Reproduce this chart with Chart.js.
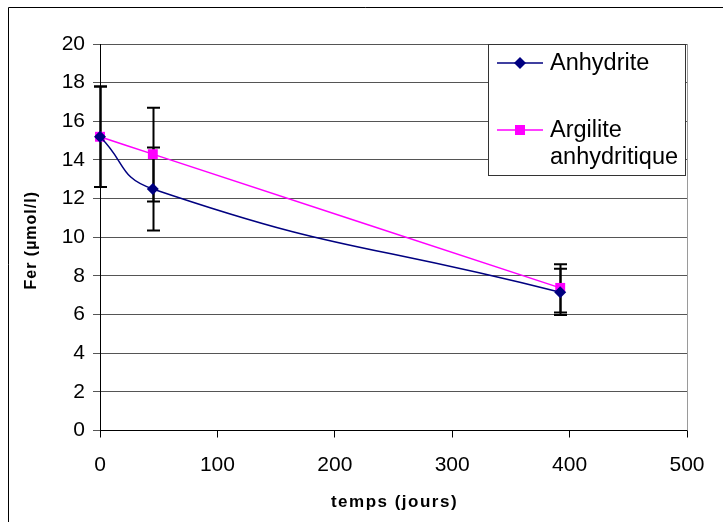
<!DOCTYPE html>
<html>
<head>
<meta charset="utf-8">
<script src="https://cdn.jsdelivr.net/npm/chart.js@4/dist/chart.umd.min.js"></script>
<style>
  html, body { margin: 0; padding: 0; background: #fff; }
  #wrap { width: 723px; height: 522px; }
</style>
</head>
<body>
<div id="wrap"><canvas id="chart" width="723" height="522"></canvas></div>
<script>
// temps (jours)
const days = [0, 45, 392];

const anhydrite = [15.2, 12.5, 7.15];
const anhydriteLow = [12.6, 10.35, 5.98];
const anhydriteHigh = [17.8, 14.65, 8.37];

const argilite = [15.2, 14.3, 7.38];
const argiliteLow = [12.6, 11.85, 6.1];
const argiliteHigh = [17.8, 16.7, 8.6];

const xTicks = [0, 100, 200, 300, 400, 500];
const yTicks = [0, 2, 4, 6, 8, 10, 12, 14, 16, 18, 20];

const xTitle = 'temps (jours)';
const yTitle = 'Fer (µmol/l)';
const legendLabels = [['Anhydrite'], ['Argilite', 'anhydritique']];

const NAVY = '#000080';
const PINK = '#FF00FF';
const FONT = '"Liberation Sans", Arial, sans-serif';

function toPoints(xs, ys) {
    return xs.map((x, i) => ({x: x, y: ys[i]}));
}

// error bars, drawn before the lines so markers sit on top
const errorBars = {
    id: 'errorBars',
    beforeDatasetsDraw(chart) {
        const ctx = chart.ctx;
        const xs = chart.scales.x, ys = chart.scales.y;
        const sets = [[anhydriteLow, anhydriteHigh], [argiliteLow, argiliteHigh]];
        ctx.save();
        ctx.strokeStyle = '#000';
        ctx.lineWidth = 2;
        sets.forEach(([lo, hi]) => {
            days.forEach((d, i) => {
                const px = Math.round(xs.getPixelForValue(d)) + 0.5;
                const top = ys.getPixelForValue(hi[i]);
                const bot = ys.getPixelForValue(lo[i]);
                ctx.beginPath();
                ctx.moveTo(px, top); ctx.lineTo(px, bot);
                ctx.moveTo(px - 6.5, top); ctx.lineTo(px + 6.5, top);
                ctx.moveTo(px - 6.5, bot); ctx.lineTo(px + 6.5, bot);
                ctx.stroke();
            });
        });
        ctx.restore();
    }
};

// frame, axis titles, right border of the plot and legend box
const decorations = {
    id: 'decorations',
    beforeDraw(chart) {
        const ctx = chart.ctx;
        ctx.save();
        ctx.strokeStyle = '#000';
        ctx.lineWidth = 1;
        ctx.beginPath();
        ctx.moveTo(8.5, 522); ctx.lineTo(8.5, 7.5); ctx.lineTo(723, 7.5);
        ctx.stroke();
        ctx.restore();
    },
    afterDraw(chart) {
        const ctx = chart.ctx;
        const area = chart.chartArea;
        ctx.save();
        ctx.strokeStyle = '#9a9a9a';
        ctx.lineWidth = 1;
        ctx.beginPath();
        ctx.moveTo(Math.round(area.right) + 0.5, area.top);
        ctx.lineTo(Math.round(area.right) + 0.5, area.bottom);
        ctx.stroke();

        // axis titles
        ctx.fillStyle = '#000';
        ctx.textAlign = 'center';
        ctx.textBaseline = 'middle';
        ctx.font = 'bold 17px ' + FONT;
        ctx.letterSpacing = '1.5px';
        ctx.fillText(xTitle, (area.left + area.right) / 2 + 1, 502);
        ctx.save();
        ctx.translate(32, (area.top + area.bottom) / 2 + 3);
        ctx.rotate(-Math.PI / 2);
        ctx.font = 'bold 16px ' + FONT;
        ctx.letterSpacing = '1px';
        ctx.fillText(yTitle, 0, 0);
        ctx.restore();
        ctx.letterSpacing = '0px';

        // legend
        const bx = 488.5, by = 44.5, bw = 197, bh = 131;
        ctx.fillStyle = '#fff';
        ctx.fillRect(bx, by, bw, bh);
        ctx.strokeStyle = '#333';
        ctx.strokeRect(bx, by, bw, bh);

        const rows = [63, 130];
        const colors = [NAVY, PINK];
        ctx.font = '23.5px ' + FONT;
        ctx.textBaseline = 'middle';
        ctx.textAlign = 'left';
        rows.forEach((ry, i) => {
            ctx.strokeStyle = colors[i];
            ctx.lineWidth = 1.5;
            ctx.beginPath();
            ctx.moveTo(497, ry); ctx.lineTo(543, ry);
            ctx.stroke();
            ctx.fillStyle = colors[i];
            ctx.beginPath();
            if (i === 0) {
                ctx.moveTo(520, ry - 6); ctx.lineTo(526, ry);
                ctx.lineTo(520, ry + 6); ctx.lineTo(514, ry);
            } else {
                ctx.rect(515, ry - 5, 10, 10);
            }
            ctx.closePath();
            ctx.fill();
            ctx.fillStyle = '#000';
            legendLabels[i].forEach((t, j) => ctx.fillText(t, 550, ry + 1 + j * 27));
        });
        ctx.restore();
    }
};

const ctx = document.getElementById('chart').getContext('2d');
const chart = new Chart(ctx, {
    type: 'scatter',
    data: {
        datasets: [{
            label: 'Anhydrite',
            data: toPoints(days, anhydrite),
            showLine: true,
            tension: 0.5,
            clip: false,
            borderColor: NAVY,
            borderWidth: 1.5,
            pointStyle: 'rectRot',
            pointRadius: 6,
            pointBackgroundColor: NAVY,
            pointBorderColor: NAVY,
            pointBorderWidth: 0
        }, {
            label: 'Argilite anhydritique',
            data: toPoints(days, argilite),
            showLine: true,
            tension: 0.5,
            clip: false,
            borderColor: PINK,
            borderWidth: 1.5,
            pointStyle: 'rect',
            pointRadius: 7,
            pointBackgroundColor: PINK,
            pointBorderColor: PINK,
            pointBorderWidth: 0
        }]
    },
    options: {
        responsive: false,
        animation: false,
        layout: {
            padding: {top: 44, right: 36, left: 0, bottom: 0}
        },
        scales: {
            x: {
                type: 'linear',
                min: 0,
                max: 500,
                afterBuildTicks: (axis) => { axis.ticks = xTicks.map(v => ({value: v})); },
                afterFit: (axis) => { axis.height = 91.5; },
                grid: {
                    drawOnChartArea: false,
                    drawTicks: true,
                    tickLength: 7,
                    color: '#000'
                },
                border: {color: '#000', width: 1},
                ticks: {
                    color: '#000',
                    padding: 15,
                    maxRotation: 0,
                    font: {family: FONT, size: 21}
                }
            },
            y: {
                min: 0,
                max: 20,
                afterBuildTicks: (axis) => { axis.ticks = yTicks.map(v => ({value: v})); },
                afterFit: (axis) => { axis.width = 100; },
                grid: {
                    color: '#555',
                    drawTicks: true,
                    tickLength: 7
                },
                border: {color: '#000', width: 1},
                ticks: {
                    color: '#000',
                    padding: 8,
                    font: {family: FONT, size: 21}
                }
            }
        },
        plugins: {
            legend: {display: false},
            tooltip: {enabled: false}
        }
    },
    plugins: [errorBars, decorations]
});
</script>
</body>
</html>
